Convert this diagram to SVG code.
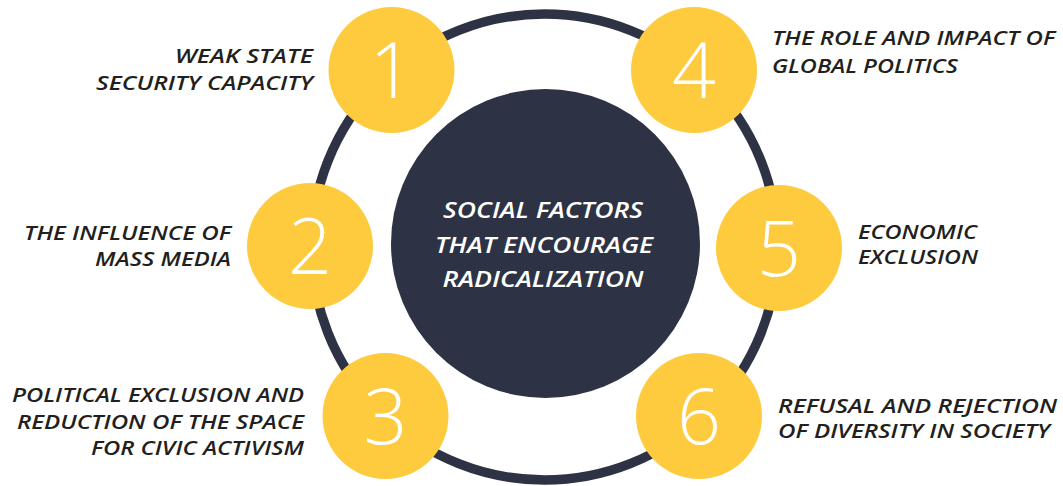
<svg xmlns="http://www.w3.org/2000/svg" width="1063" height="486" viewBox="0 0 1063 486">
<style>
.lbl{font-family:"Open Sans","Liberation Sans",sans-serif;font-style:italic;font-weight:600;font-size:20px;fill:#231F20}
.ctr{font-family:"Open Sans","Liberation Sans",sans-serif;font-style:italic;font-weight:600;font-size:22px;fill:#FFFFFF;text-anchor:middle}
.num{font-family:"Open Sans","Liberation Sans",sans-serif;font-weight:300;font-size:77px;fill:#FFFFFF;text-anchor:middle}
.dot{fill:#FECB3F}
.r{text-anchor:end}
</style>
<rect width="1063" height="486" fill="#FFFFFF"/>
<g id="connectors">
<circle cx="544.5" cy="247" r="233" fill="none" stroke="#2D3344" stroke-width="9.5"/>
</g>
<g id="center">
<circle cx="545.5" cy="243.5" r="154.5" fill="#2D3344"/>
<text class="ctr" x="543" y="217.5" textLength="200" lengthAdjust="spacingAndGlyphs">SOCIAL FACTORS</text>
<text class="ctr" x="544" y="252.5" textLength="218" lengthAdjust="spacingAndGlyphs">THAT ENCOURAGE</text>
<text class="ctr" x="543" y="287" textLength="201" lengthAdjust="spacingAndGlyphs">RADICALIZATION</text>
</g>
<g id="node1">
<circle class="dot" cx="391.5" cy="70" r="63"/>
<text class="num" x="391.5" y="98">1</text>
<text class="lbl r" x="313" y="62.5" textLength="138" lengthAdjust="spacingAndGlyphs">WEAK STATE</text>
<text class="lbl r" x="313" y="90" textLength="217" lengthAdjust="spacingAndGlyphs">SECURITY CAPACITY</text>
</g>
<g id="node2">
<circle class="dot" cx="310" cy="246" r="63"/>
<text class="num" x="310" y="274">2</text>
<text class="lbl r" x="231" y="240" textLength="207" lengthAdjust="spacingAndGlyphs">THE INFLUENCE OF</text>
<text class="lbl r" x="231" y="266" textLength="136" lengthAdjust="spacingAndGlyphs">MASS MEDIA</text>
</g>
<g id="node3">
<circle class="dot" cx="385.5" cy="416" r="63"/>
<text class="num" x="385.5" y="443.5">3</text>
<text class="lbl r" x="304" y="401.5" textLength="292" lengthAdjust="spacingAndGlyphs">POLITICAL EXCLUSION AND</text>
<text class="lbl r" x="304" y="428.5" textLength="287" lengthAdjust="spacingAndGlyphs">REDUCTION OF THE SPACE</text>
<text class="lbl r" x="304" y="455" textLength="213" lengthAdjust="spacingAndGlyphs">FOR CIVIC ACTIVISM</text>
</g>
<g id="node4">
<circle class="dot" cx="694" cy="70" r="63"/>
<text class="num" x="694" y="98">4</text>
<text class="lbl" x="772" y="45" textLength="283" lengthAdjust="spacingAndGlyphs">THE ROLE AND IMPACT OF</text>
<text class="lbl" x="772" y="72.5" textLength="186" lengthAdjust="spacingAndGlyphs">GLOBAL POLITICS</text>
</g>
<g id="node5">
<circle class="dot" cx="779" cy="248" r="63"/>
<text class="num" x="779" y="276">5</text>
<text class="lbl" x="858" y="238.5" textLength="119" lengthAdjust="spacingAndGlyphs">ECONOMIC</text>
<text class="lbl" x="858" y="264" textLength="120" lengthAdjust="spacingAndGlyphs">EXCLUSION</text>
</g>
<g id="node6">
<circle class="dot" cx="699" cy="416" r="63"/>
<text class="num" x="699" y="443.5">6</text>
<text class="lbl" x="778" y="413" textLength="279" lengthAdjust="spacingAndGlyphs">REFUSAL AND REJECTION</text>
<text class="lbl" x="778" y="438" textLength="272" lengthAdjust="spacingAndGlyphs">OF DIVERSITY IN SOCIETY</text>
</g>
</svg>
